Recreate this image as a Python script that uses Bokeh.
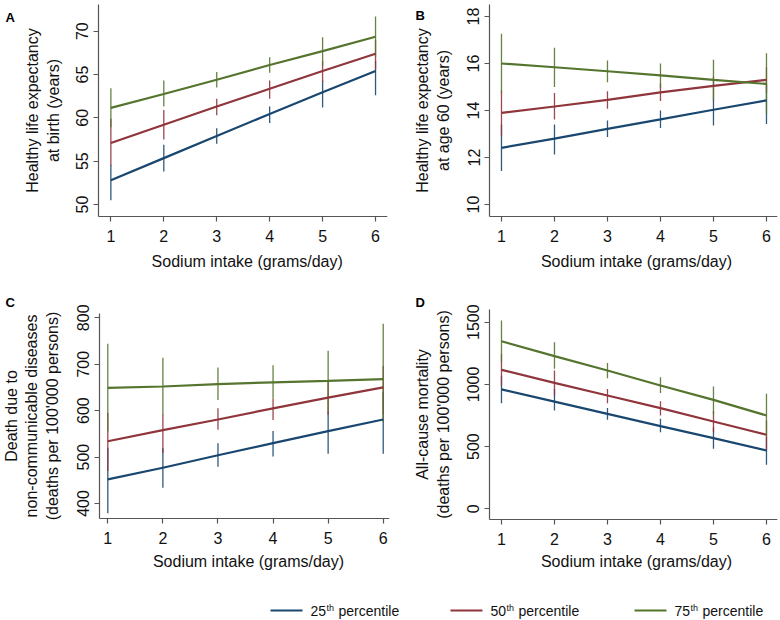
from bokeh.plotting import figure
from bokeh.layouts import column, row
from bokeh.models import Range1d, FixedTicker, Label, ColumnDataSource
from bokeh.embed import file_html
from bokeh.resources import INLINE
from bokeh.core.properties import value

# ---------------- data ----------------
sodium = [1, 2, 3, 4, 5, 6]

# Panel A: healthy life expectancy at birth
a25 = [52.8, 55.35, 57.9, 60.45, 62.95, 65.4]
a25_lo = [50.5, 53.8, 57.0, 59.4, 61.2, 62.6]
a25_hi = [54.6, 56.9, 58.8, 61.3, 64.3, 66.6]
a50 = [57.1, 59.2, 61.3, 63.35, 65.4, 67.4]
a50_lo = [54.5, 57.5, 60.3, 62.2, 64.1, 65.6]
a50_hi = [59.9, 60.9, 62.2, 64.3, 66.6, 69.0]
a75 = [61.15, 62.75, 64.4, 66.1, 67.7, 69.35]
a75_lo = [58.9, 61.3, 63.5, 65.2, 66.0, 67.0]
a75_hi = [63.4, 64.3, 65.3, 67.0, 69.3, 71.7]

# Panel B: healthy life expectancy at age 60
b25 = [12.41, 12.8, 13.22, 13.62, 14.03, 14.43]
b25_lo = [11.42, 12.13, 12.87, 13.25, 13.36, 13.43]
b25_hi = [13.4, 13.4, 13.57, 14.0, 14.57, 15.13]
b50 = [13.9, 14.17, 14.45, 14.77, 15.05, 15.3]
b50_lo = [12.9, 13.62, 14.07, 14.4, 14.57, 14.74]
b50_hi = [14.85, 14.74, 14.82, 15.16, 15.45, 15.84]
b75 = [16.0, 15.84, 15.67, 15.49, 15.3, 15.13]
b75_lo = [14.75, 15.0, 15.2, 14.96, 14.43, 13.86]
b75_hi = [17.26, 16.67, 16.13, 16.0, 16.16, 16.44]

# Panel C: deaths due to non-communicable diseases
c25 = [452, 477, 504, 530, 556, 581]
c25_lo = [379, 434, 479, 501, 507, 507]
c25_hi = [520, 519, 530, 556, 598, 640]
c50 = [534, 558, 581, 605, 628, 650]
c50_lo = [470, 509, 559, 580, 591, 592]
c50_hi = [595, 591, 605, 626, 662, 696]
c75 = [649, 652, 657, 661, 664, 668]
c75_lo = [555, 590, 623, 626, 598, 575]
c75_hi = [744, 714, 693, 698, 729, 787]

# Panel D: all-cause mortality
d25 = [960, 862, 763, 664, 568, 469]
d25_lo = [849, 790, 715, 616, 482, 354]
d25_hi = [1070, 964, 811, 723, 656, 576]
d50 = [1117, 1012, 911, 809, 702, 595]
d50_lo = [990, 911, 849, 750, 616, 474]
d50_hi = [1245, 1112, 964, 865, 785, 710]
d75 = [1347, 1227, 1112, 991, 876, 750]
d75_lo = [1180, 1125, 1050, 930, 763, 580]
d75_hi = [1513, 1339, 1171, 1058, 983, 924]

a_ticks = [50, 55, 60, 65, 70]
b_ticks = [10, 12, 14, 16, 18]
c_ticks = [400, 500, 600, 700, 800]
d_ticks = [0, 500, 1000, 1500]

pct_labels = ["25", "50", "75"]
x_label = "Sodium intake (grams/day)"

# ---------------- style ----------------
BLUE, RED, GREEN = "#1a476f", "#90353b", "#55752f"
COLORS = [BLUE, RED, GREEN]
FONT = "Liberation Sans"
TXT = "#111111"
AXC = "#555555"


def make_panel(w, h, right, xr, y_axis_at, yr, x_axis_at, y_top, yticks, ylabel,
               ylab_standoff, series, letter, letter_px, xlab_px):
    # the frame covers the whole canvas; both axes are pinned at data positions
    # so that the panel letter and the x label can sit inside the frame
    p = figure(width=w, height=h, x_range=Range1d(*xr), y_range=Range1d(*yr),
               output_backend="svg", toolbar_location=None,
               min_border_left=0, min_border_right=right,
               min_border_top=0, min_border_bottom=0)
    p.outline_line_color = None
    p.grid.visible = False
    p.background_fill_color = "white"
    p.border_fill_color = "white"
    for ax in (p.xaxis[0], p.yaxis[0]):
        ax.axis_line_color = AXC
        ax.axis_line_width = 1.2
        ax.major_tick_line_color = AXC
        ax.major_tick_line_width = 1.2
        ax.major_tick_out = 5
        ax.major_tick_in = 0
        ax.minor_tick_line_color = None
        ax.major_label_text_font = FONT
        ax.major_label_text_font_size = "16px"
        ax.major_label_text_color = TXT
        ax.axis_label_text_font = FONT
        ax.axis_label_text_font_size = "16px"
        ax.axis_label_text_font_style = "normal"
        ax.axis_label_text_color = TXT
    p.xaxis.ticker = FixedTicker(ticks=sodium)
    p.yaxis.ticker = FixedTicker(ticks=yticks)
    p.xaxis.bounds = (y_axis_at, xr[1])
    p.yaxis.bounds = (x_axis_at, y_top)
    p.yaxis.fixed_location = y_axis_at
    p.xaxis.fixed_location = x_axis_at
    p.yaxis.major_label_orientation = "vertical"
    p.yaxis.axis_label = ylabel
    p.xaxis.major_label_standoff = 9
    p.yaxis.major_label_standoff = 5
    p.yaxis.axis_label_standoff = ylab_standoff

    for (mid, lo, hi), col in zip(series, COLORS):
        src = ColumnDataSource(dict(x=sodium, lo=lo, hi=hi))
        p.segment(x0="x", y0="lo", x1="x", y1="hi", source=src,
                  line_color=col, line_width=1.3, line_alpha=0.9)
    for (mid, lo, hi), col in zip(series, COLORS):
        p.line(sodium, mid, line_color=col, line_width=2.2)

    fw = w - right

    def to_data(px, py):
        return (xr[0] + px * (xr[1] - xr[0]) / fw,
                yr[1] - py * (yr[1] - yr[0]) / h)

    lx, ly = to_data(*letter_px)
    p.add_layout(Label(x=lx, y=ly, text=letter, text_font=FONT,
                       text_font_size="13px", text_font_style="bold",
                       text_color="black", text_align="left",
                       text_baseline="alphabetic"))
    tx, ty = to_data(*xlab_px)
    p.add_layout(Label(x=tx, y=ty, text=x_label, text_font=FONT,
                       text_font_size="16px", text_color=TXT,
                       text_align="center", text_baseline="alphabetic"))
    return p


pA = make_panel(390, 290, 3, (-1.085, 6.226), 0.764, (40.075, 73.54), 48.62, 73.08,
                a_ticks, "Healthy life expectancy\nat birth (years)", 12,
                [(a25, a25_lo, a25_hi), (a50, a50_lo, a50_hi), (a75, a75_lo, a75_hi)],
                "A", (5, 17), (246.7, 261))
pB = make_panel(390, 290, 3, (-1.094, 6.208), 0.774, (6.34, 18.68), 9.49, 18.51,
                b_ticks, "Healthy life expectancy\nat age 60 (years)", 13,
                [(b25, b25_lo, b25_hi), (b50, b50_lo, b50_hi), (b75, b75_lo, b75_hi)],
                "B", (25, 15), (246, 261))
pC = make_panel(390, 285, 1, (-0.948, 6.114), 0.849, (244.9, 858.8), 367.7, 809.3,
                c_ticks, "Death due to\nnon-communicable diseases\n(deaths per 100'000 persons)", 14,
                [(c25, c25_lo, c25_hi), (c50, c50_lo, c50_hi), (c75, c75_lo, c75_hi)],
                "C", (5, 12), (248, 271))
pD = make_panel(390, 285, 3, (-1.094, 6.208), 0.774, (-536.2, 1754.8), -86, 1602,
                d_ticks, "All-cause mortality\n(deaths per 100'000 persons)", 13,
                [(d25, d25_lo, d25_hi), (d50, d50_lo, d50_hi), (d75, d75_lo, d75_hi)],
                "D", (25, 12), (246, 271))

# ---------------- legend strip ----------------
leg = figure(width=780, height=44, x_range=Range1d(0, 780), y_range=Range1d(0, 44),
             output_backend="svg", toolbar_location=None, min_border=0,
             x_axis_location=None, y_axis_location=None)
leg.outline_line_color = None
leg.grid.visible = False
key_x = [270, 450, 634]
key_y = 9
for lab, col, kx in zip(pct_labels, COLORS, key_x):
    leg.line([kx, kx + 32], [key_y, key_y], line_color=col, line_width=2.2)
    leg.text([kx + 40], [key_y], text=[lab], text_font=value(FONT), text_font_size="14px",
             text_color=TXT, text_baseline="middle", text_align="left")
    leg.text([kx + 56], [key_y + 3], text=["th"], text_font=value(FONT), text_font_size="9px",
             text_color=TXT, text_baseline="middle", text_align="left")
    leg.text([kx + 68], [key_y], text=["percentile"], text_font=value(FONT), text_font_size="14px",
             text_color=TXT, text_baseline="middle", text_align="left")

layout = column(row(pA, pB), row(pC, pD), leg)
open("out.html", "w").write(file_html(layout, INLINE))
